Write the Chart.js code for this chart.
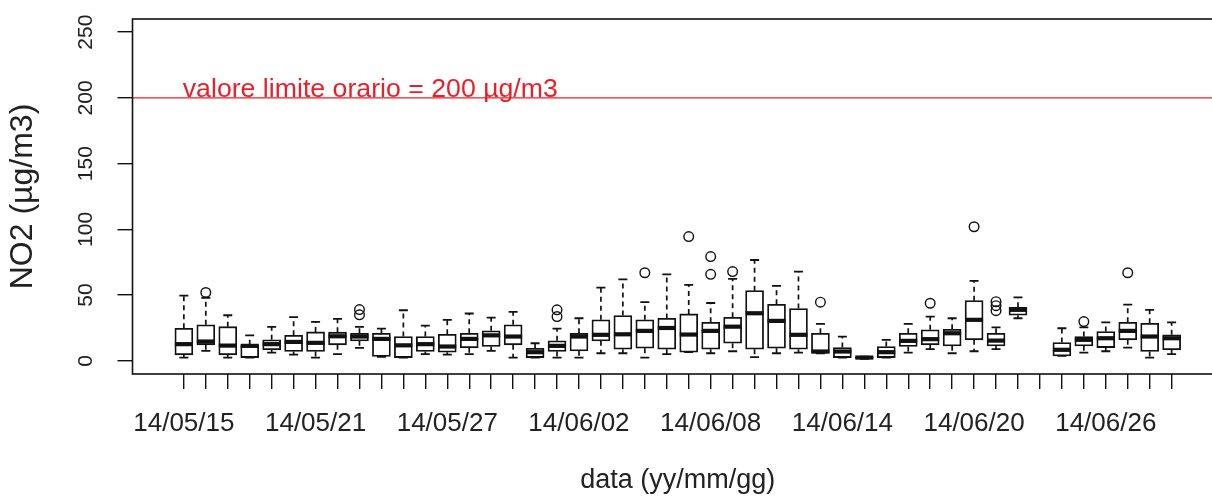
<!DOCTYPE html>
<html>
<head>
<meta charset="utf-8">
<script src="https://cdn.jsdelivr.net/npm/chart.js@4"></script>
<style>
  html, body { margin: 0; padding: 0; background: #fff; overflow: hidden; }
  #wrap { position: absolute; left: 0; top: 0; width: 1240px; height: 500px; }
</style>
</head>
<body>
<div id="wrap"><canvas id="no2chart" width="1240" height="500"></canvas></div>
<script>
// daily NO2 boxplots, one box per day (14/06/23 has no data)
const days = ['14/05/15','14/05/16','14/05/17','14/05/18','14/05/19','14/05/20','14/05/21','14/05/22',
  '14/05/23','14/05/24','14/05/25','14/05/26','14/05/27','14/05/28','14/05/29','14/05/30','14/05/31',
  '14/06/01','14/06/02','14/06/03','14/06/04','14/06/05','14/06/06','14/06/07','14/06/08','14/06/09',
  '14/06/10','14/06/11','14/06/12','14/06/13','14/06/14','14/06/15','14/06/16','14/06/17','14/06/18',
  '14/06/19','14/06/20','14/06/21','14/06/22','14/06/23','14/06/24','14/06/25','14/06/26','14/06/27',
  '14/06/28','14/06/29'];

const whiskerLow  = [2.5, 7.6, 2.5, 2.5, 6.3, 4.8, 2.5, 5.1, 9.9, 3, 2.5, 5.1, 4.8, 5.1, 7.6, 2.5, 2.5,
  2.5, 2.5, 5.8, 5.8, 2.5, 5.1, 6.6, 5.8, 7.3, 2.8, 5.8, 6.3, 5.8, 2.5, 1.5, 2.5, 6.3, 8.9,
  5.8, 7.3, 8.9, 32.4, null, 3.8, 6.3, 7.3, 10.1, 2.5, 5.1];
const boxLow      = [4.6, 12.2, 4.6, 2.5, 8.4, 7.1, 7.1, 12.2, 15.2, 3.3, 2.5, 7.1, 6.6, 9.9, 10.9, 12.2, 2.5,
  7.1, 7.6, 15.2, 8.9, 9.6, 8.9, 6.6, 8.9, 13.4, 8.9, 9.6, 8.9, 5.8, 2.5, 1.8, 2.5, 10.9, 12.2,
  11.4, 16, 11.4, 34.7, null, 3.8, 11.4, 10.1, 16, 7.1, 8.4];
const median      = [12.7, 14.7, 11.6, 11.4, 12.7, 14.4, 13.7, 18.7, 18.5, 16.7, 11.8, 12.7, 10.9, 16.7, 19.4, 18.5, 6.6,
  11.4, 18.5, 19.8, 20.2, 22.8, 25, 20, 22.8, 26, 36.2, 30.4, 19.8, 7.1, 7.1, 2.5, 6.6, 15.2, 16.5,
  21, 31.2, 15.4, 38.8, null, 8.4, 16, 17.2, 22.8, 18.5, 17.2];
const boxHigh     = [24.8, 27.4, 26, 12.2, 16, 19.4, 22, 21.8, 21, 21, 18.5, 18.5, 20.2, 21, 22.8, 27.4, 9.6,
  15.2, 21, 31.2, 34.4, 31.2, 32.3, 35.7, 29.3, 33.1, 53.4, 43, 39.8, 21, 10.1, 3, 10.9, 21, 23.6,
  24, 45.8, 21, 40.7, null, 13.9, 18.5, 22.3, 29.3, 28.6, 19.8];
const whiskerHigh = [49.6, 48, 34.7, 19.4, 25.8, 33.2, 29.6, 31.9, 25.8, 24.5, 38.5, 26.8, 31.2, 36, 32.9, 37.2, 13.4,
  24.5, 32.4, 55.7, 62, 44.6, 65.8, 57.8, 44, 62.3, 76.7, 57, 67.9, 28.1, 18.5, 3.2, 16, 28.1, 33.7,
  32.4, 60.8, 25.5, 48.3, null, 24.8, 25.5, 29.3, 42.8, 38.8, 29.3];

const outlierDay   = [1, 8, 8, 17, 17, 21, 23, 24, 24, 25, 29, 34, 36, 37, 37, 37, 41, 43];
const outlierValue = [52, 39, 35, 38.8, 33.7, 67, 94.5, 79.3, 65.8, 67.9, 44.6, 43.8, 102, 45, 42, 38.2, 29.9, 67];

const yTicks = [0, 50, 100, 150, 200, 250];
const limitValue = 200;
const limitText = 'valore limite orario = 200 \u00b5g/m3';

const INK = '#111';
const RED = '#e8202a';
const FONT = 'Liberation Sans';

const boxData = [];
days.forEach((d, i) => {
  if (median[i] == null) return;
  boxData.push({x: i, y: [boxLow[i], boxHigh[i]]});
});
const outlierData = outlierDay.map((d, i) => ({x: d, y: outlierValue[i]}));

const boxExtras = {
  id: 'boxExtras',
  beforeDatasetsDraw(chart) {
    const {ctx, chartArea, scales: {x, y}} = chart;
    ctx.save();
    // limit line
    const ly = y.getPixelForValue(limitValue);
    ctx.strokeStyle = RED;
    ctx.lineWidth = 1.4;
    ctx.beginPath();
    ctx.moveTo(chartArea.left, ly);
    ctx.lineTo(chartArea.right, ly);
    ctx.stroke();
    ctx.fillStyle = RED;
    ctx.font = '26.7px "' + FONT + '"';
    ctx.textAlign = 'left';
    ctx.textBaseline = 'alphabetic';
    ctx.fillText(limitText, x.getPixelForValue(-0.05), ly - 1);

    // dashed whiskers
    ctx.strokeStyle = INK;
    ctx.lineWidth = 1.7;
    ctx.setLineDash([5, 4]);
    days.forEach((d, i) => {
      if (median[i] == null) return;
      const px = x.getPixelForValue(i);
      ctx.beginPath();
      ctx.moveTo(px, y.getPixelForValue(boxHigh[i]));
      ctx.lineTo(px, y.getPixelForValue(whiskerHigh[i]));
      ctx.moveTo(px, y.getPixelForValue(boxLow[i]));
      ctx.lineTo(px, y.getPixelForValue(whiskerLow[i]));
      ctx.stroke();
    });
    ctx.restore();
  },
  afterDatasetsDraw(chart) {
    const {ctx, chartArea, scales: {x, y}} = chart;
    ctx.save();
    ctx.strokeStyle = INK;
    days.forEach((d, i) => {
      if (median[i] == null) return;
      const px = x.getPixelForValue(i);
      // staples
      ctx.lineWidth = 1.8;
      ctx.beginPath();
      [whiskerHigh[i], whiskerLow[i]].forEach(v => {
        const py = y.getPixelForValue(v);
        ctx.moveTo(px - 4.5, py);
        ctx.lineTo(px + 4.5, py);
      });
      ctx.stroke();
      // median
      ctx.lineWidth = 4.2;
      ctx.beginPath();
      const my = y.getPixelForValue(median[i]);
      ctx.moveTo(px - 9, my);
      ctx.lineTo(px + 9, my);
      ctx.stroke();
    });
    // plot frame
    ctx.lineWidth = 1.6;
    ctx.strokeRect(chartArea.left, chartArea.top, chartArea.right - chartArea.left, chartArea.bottom - chartArea.top);
    ctx.restore();
  }
};

const config = {
  type: 'bar',
  data: {
    datasets: [{
      type: 'scatter',
      data: outlierData,
      pointRadius: 4.8,
      pointBorderWidth: 1.4,
      borderColor: INK,
      backgroundColor: 'rgba(0,0,0,0)',
    }, {
      type: 'bar',
      data: boxData,
      barThickness: 18,
      borderWidth: 1.8,
      borderColor: INK,
      backgroundColor: '#fff',
      borderSkipped: false,
    }]
  },
  options: {
    responsive: false,
    animation: false,
    events: [],
    layout: { padding: { top: 19, right: 17, left: 0, bottom: 0 } },
    plugins: { legend: { display: false }, tooltip: { enabled: false } },
    scales: {
      x: {
        type: 'linear',
        offset: false,
        min: -2.34,
        max: 47.34,
        afterBuildTicks: s => { s.ticks = days.map((d, i) => ({value: i})); },
        afterFit: s => { s.height = 126; s.paddingLeft = 0; s.paddingRight = 0; },
        ticks: {
          autoSkip: false, maxRotation: 0, minRotation: 0, padding: 19,
          color: '#222', font: { family: FONT, size: 26 },
          callback: (v, i) => (i % 6 === 0 ? days[i] : '')
        },
        grid: { offset: false, drawOnChartArea: false, drawTicks: true, tickLength: 15, color: INK, lineWidth: 1.4 },
        border: { display: false },
        title: { display: true, text: 'data (yy/mm/gg)', color: '#222',
          font: { family: FONT, size: 27 }, padding: { top: 0, bottom: 3 } }
      },
      y: {
        min: -10,
        max: 260,
        afterBuildTicks: s => { s.ticks = yTicks.map(v => ({value: v})); },
        afterFit: s => { s.width = 132.5; s.paddingTop = 0; s.paddingBottom = 0; },
        ticks: {
          minRotation: 90, maxRotation: 90, crossAlign: 'center', padding: 14,
          color: '#222', font: { family: FONT, size: 21 }
        },
        grid: { drawOnChartArea: false, drawTicks: true, tickLength: 15, color: INK, lineWidth: 1.4 },
        border: { display: false },
        title: { display: true, text: 'NO2 (\u00b5g/m3)', color: '#222',
          font: { family: FONT, size: 32 }, padding: { top: 4, bottom: 0 } }
      }
    }
  },
  plugins: [boxExtras]
};

const chart = new Chart(document.getElementById('no2chart'), config);
</script>
</body>
</html>
